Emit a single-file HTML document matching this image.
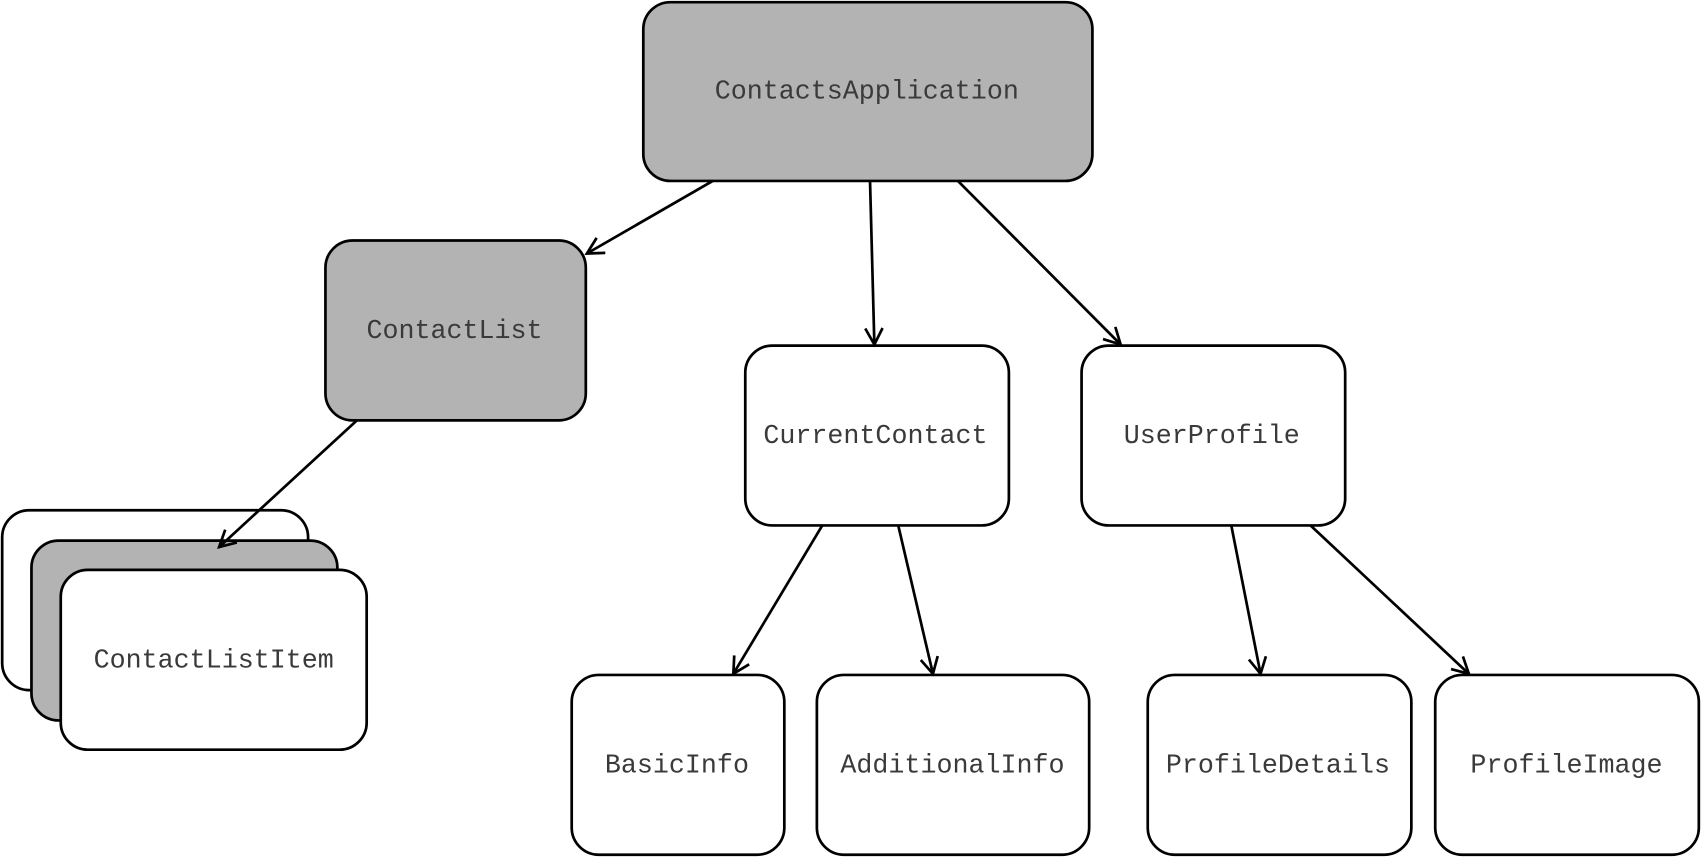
<!DOCTYPE html>
<html><head><meta charset="utf-8"><style>
html,body{margin:0;padding:0;background:#fff;width:1701px;height:858px;overflow:hidden}
svg{display:block}
text{font-family:"Liberation Mono",monospace;font-size:24.6px;fill:#3a3a3a}
</style></head><body>
<svg width="1701" height="858" viewBox="0 0 1568 792" preserveAspectRatio="none">
<defs>
<marker id="a" markerUnits="userSpaceOnUse" markerWidth="30" markerHeight="30" refX="17" refY="9" orient="auto">
<path d="M2,1 L17,9 L2,17" fill="none" stroke="#000" stroke-width="2.5"/>
</marker>
</defs>
<g stroke="#000" stroke-width="2.5">
<rect x="593" y="2" width="414" height="165" rx="25" fill="#b3b3b3"/>
<rect x="300" y="222" width="240" height="166" rx="25" fill="#b3b3b3"/>
<rect x="687" y="319" width="243" height="166" rx="25" fill="#fff"/>
<rect x="997" y="319" width="243" height="166" rx="25" fill="#fff"/>
<rect x="2" y="471" width="282" height="166" rx="25" fill="#fff"/>
<rect x="29" y="499" width="282" height="166" rx="25" fill="#b3b3b3"/>
<rect x="56" y="526" width="282" height="166" rx="25" fill="#fff"/>
<rect x="527" y="623" width="196" height="166" rx="25" fill="#fff"/>
<rect x="753" y="623" width="251" height="166" rx="25" fill="#fff"/>
<rect x="1058" y="623" width="243" height="166" rx="25" fill="#fff"/>
<rect x="1323" y="623" width="243" height="166" rx="25" fill="#fff"/>
</g>
<g stroke="#000" stroke-width="2.5" marker-end="url(#a)">
<line x1="657" y1="167" x2="541" y2="234"/>
<line x1="802" y1="167" x2="806" y2="318"/>
<line x1="883" y1="167" x2="1033" y2="318"/>
<line x1="329" y1="388" x2="202" y2="505"/>
<line x1="758" y1="485" x2="676" y2="622"/>
<line x1="828" y1="485" x2="860" y2="622"/>
<line x1="1135" y1="485" x2="1162" y2="622"/>
<line x1="1208" y1="485" x2="1354" y2="622"/>
</g>
<g text-anchor="middle">
<text x="799" y="91">ContactsApplication</text>
<text x="419" y="312">ContactList</text>
<text x="807" y="409">CurrentContact</text>
<text x="1117" y="409">UserProfile</text>
<text x="197" y="616">ContactListItem</text>
<text x="624" y="713">BasicInfo</text>
<text x="878" y="713">AdditionalInfo</text>
<text x="1178" y="713">ProfileDetails</text>
<text x="1444" y="713">ProfileImage</text>
</g>
</svg>
</body></html>
